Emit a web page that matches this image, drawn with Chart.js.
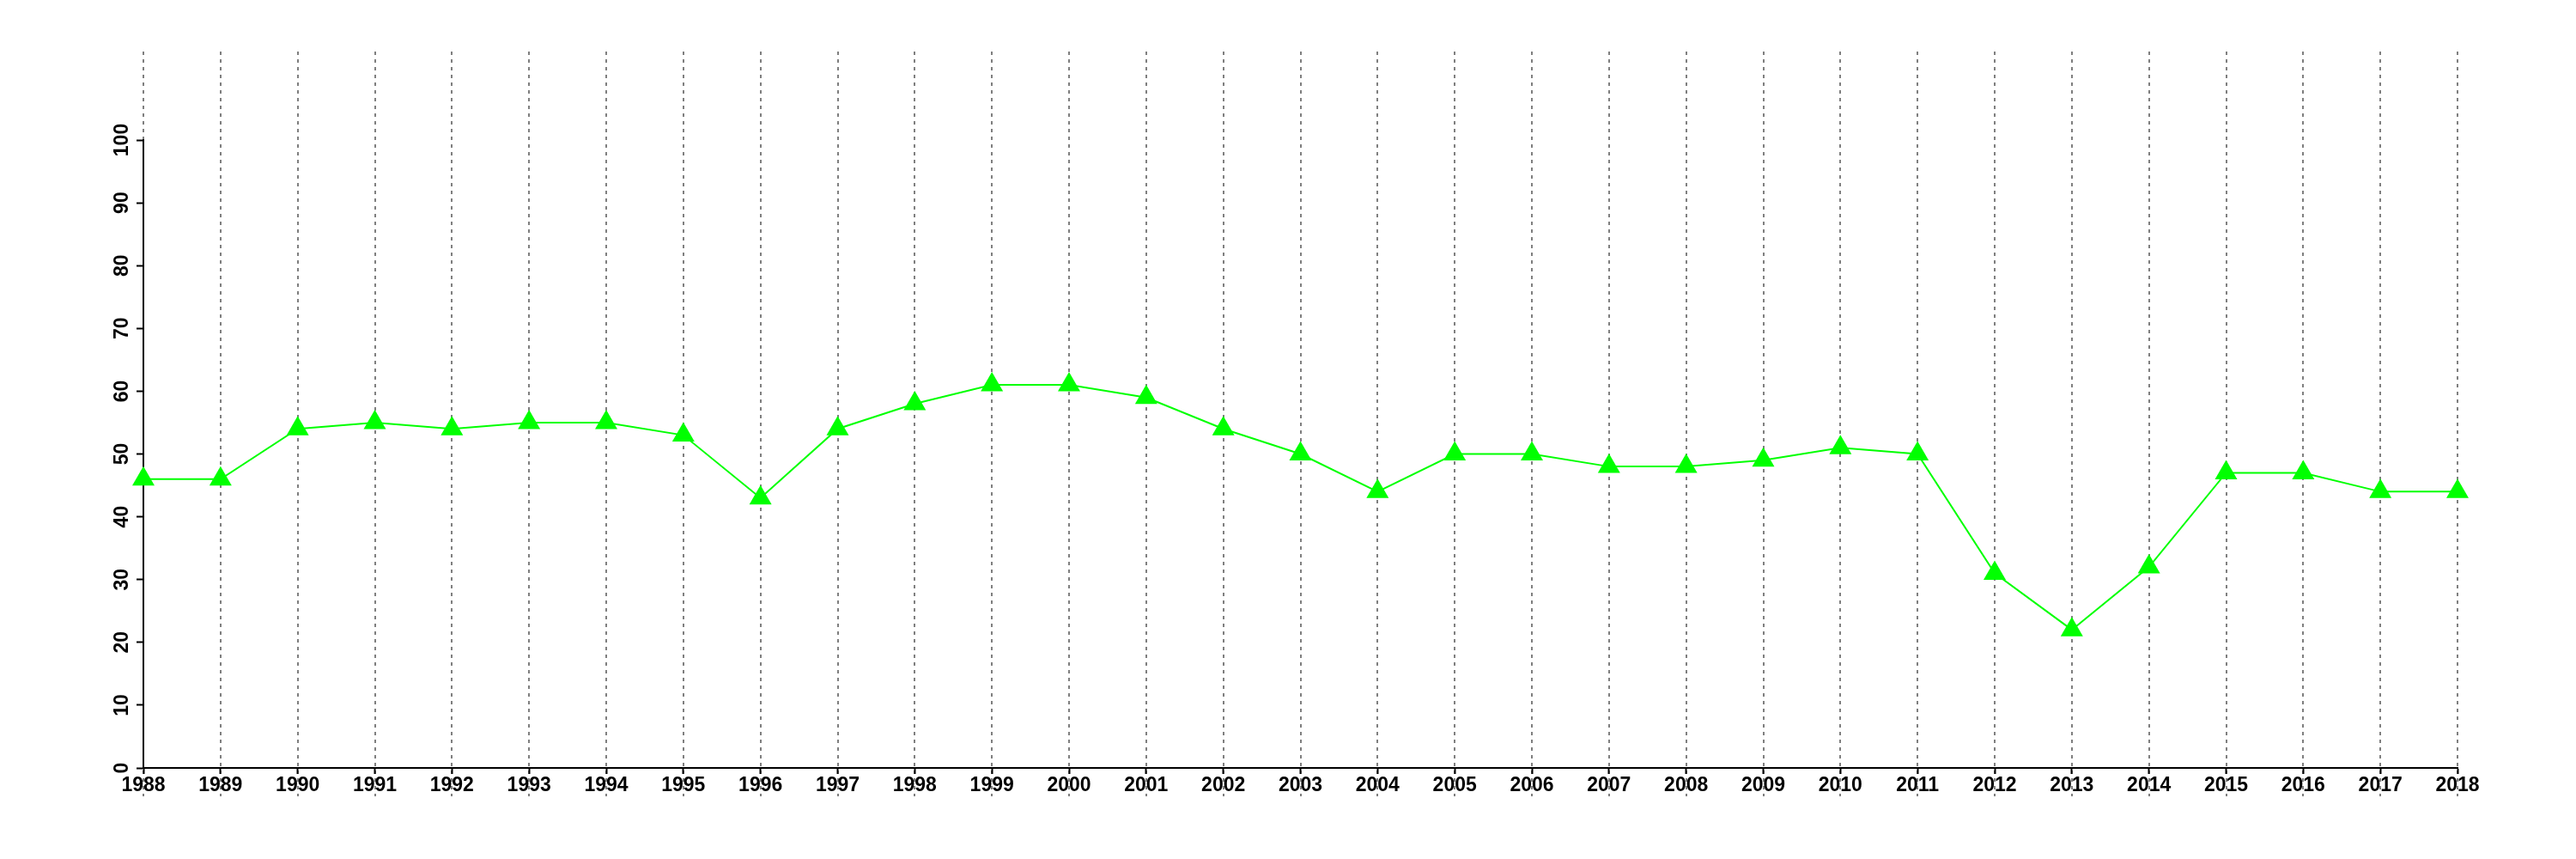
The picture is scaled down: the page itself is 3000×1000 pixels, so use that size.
<!DOCTYPE html>
<html>
<head>
<meta charset="utf-8">
<script src="https://cdn.jsdelivr.net/npm/chart.js@4"></script>
<style>
    body { margin: 0; background: #fff; }
    #wrap { width: 3000px; height: 1000px; position: relative; }
</style>
</head>
<body>
<div id="wrap"><canvas id="chart"></canvas></div>
<script>
// ====================================
// DATA
// ====================================
const years = ['1988', '1989', '1990', '1991', '1992', '1993', '1994', '1995', '1996', '1997',
    '1998', '1999', '2000', '2001', '2002', '2003', '2004', '2005', '2006', '2007',
    '2008', '2009', '2010', '2011', '2012', '2013', '2014', '2015', '2016', '2017', '2018'];
const values = [46, 46, 54, 55, 54, 55, 55, 53, 43, 54,
    58, 61, 61, 59, 54, 50, 44, 50, 50, 48,
    48, 49, 51, 50, 31, 22, 32, 47, 47, 44, 44];
const yTicks = [0, 10, 20, 30, 40, 50, 60, 70, 80, 90, 100];

const axisFont = { family: '"Liberation Sans", Arial, sans-serif', size: 23, weight: 'bold' };

// Dashed vertical guides that run past the plot area, drawn under the axes
const dashedGuides = {
    id: 'dashedGuides',
    beforeDraw(chart) {
        const { ctx, chartArea, scales } = chart;
        ctx.save();
        ctx.strokeStyle = '#7f7f7f';
        ctx.lineWidth = 2;
        ctx.setLineDash([4, 5]);
        years.forEach((y, i) => {
            const px = Math.round(scales.x.getPixelForValue(i));
            ctx.beginPath();
            ctx.moveTo(px, chartArea.top - 103);
            ctx.lineTo(px, chartArea.bottom + 33);
            ctx.stroke();
        });
        ctx.restore();
    }
};

new Chart(document.getElementById('chart'), {
    type: 'line',
    data: {
        labels: years,
        datasets: [{
            data: values,
            borderColor: '#00ff00',
            backgroundColor: '#00ff00',
            borderWidth: 2,
            tension: 0,
            pointStyle: 'triangle',
            pointRadius: 15,
            pointHoverRadius: 15,
            pointBorderWidth: 0,
            pointBackgroundColor: '#00ff00',
            clip: false
        }]
    },
    options: {
        responsive: true,
        maintainAspectRatio: false,
        animation: false,
        layout: { padding: { left: 0, top: 163, right: 138, bottom: 0 } },
        plugins: {
            legend: { display: false },
            tooltip: { enabled: false }
        },
        scales: {
            x: {
                type: 'category',
                offset: false,
                afterFit(scale) { scale.height = 106; },
                border: { display: true, color: '#000', width: 2 },
                grid: {
                    drawOnChartArea: false,
                    drawTicks: true,
                    tickLength: 7,
                    tickColor: '#000',
                    tickWidth: 2
                },
                ticks: {
                    color: '#000',
                    font: axisFont,
                    padding: 0,
                    maxRotation: 0,
                    minRotation: 0,
                    autoSkip: false
                }
            },
            y: {
                min: 0,
                max: 100,
                afterFit(scale) { scale.width = 167; },
                afterBuildTicks(scale) { scale.ticks = yTicks.map(v => ({ value: v })); },
                border: { display: true, color: '#000', width: 2 },
                grid: {
                    drawOnChartArea: false,
                    drawTicks: true,
                    tickLength: 8,
                    tickColor: '#000',
                    tickWidth: 2
                },
                ticks: {
                    color: '#000',
                    font: axisFont,
                    padding: -3,
                    crossAlign: 'center',
                    minRotation: 90,
                    maxRotation: 90
                }
            }
        }
    },
    plugins: [dashedGuides]
});
</script>
</body>
</html>
